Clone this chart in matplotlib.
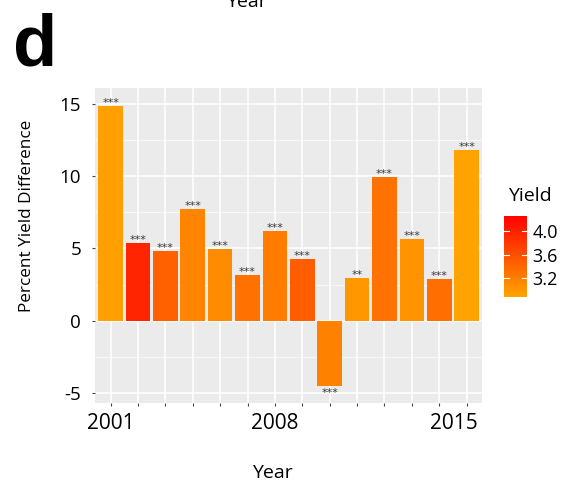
import matplotlib
matplotlib.use('Agg')
import matplotlib.pyplot as plt
import numpy as np
from matplotlib.colors import LinearSegmentedColormap

plt.rcParams['font.family'] = ['Open Sans', 'DejaVu Sans']

# percent yield difference per year, mean yield (fill) and significance stars
bar_pos = list(range(1, 15))
pct_diff = [14.8, 5.4, 4.85, 7.7, 4.95, 3.2, 6.2, 4.3, -4.5, 2.95, 9.9, 5.65, 2.9, 11.8]
yield_vals = [2.92, 3.95, 3.46, 3.16, 3.10, 3.32, 3.23, 3.48, 3.18, 3.00, 3.32, 3.03, 3.34, 2.90]
stars = ['***', '***', '***', '***', '***', '***', '***', '***', '***', '**', '***', '***', '***', '***']

year_labels = ['2001', '2008', '2015']
year_label_pos = [1, 7, 13.55]
y_ticks = [-5, 0, 5, 10, 15]
y_minor = [-2.5, 2.5, 7.5, 12.5]
cbar_ticks = [3.2, 3.6, 4.0]
y_min, y_max = 2.88, 4.26

cmap = LinearSegmentedColormap.from_list('yield', ['#FFA500', '#FF0000'])
norm = plt.Normalize(y_min, y_max)

fig = plt.figure(figsize=(5.79, 4.82), dpi=100)
ax = fig.add_axes([95/579, 1 - 403/482, 387/579, 315/482])
ax.set_facecolor('#EBEBEB')
for s in ax.spines.values():
    s.set_visible(False)

ax.bar(bar_pos, pct_diff, width=0.9, color=cmap(norm(np.array(yield_vals))), zorder=3)

# stars above / below each bar
for x, v, s in zip(bar_pos, pct_diff, stars):
    off = 0 if v >= 0 else -7
    ax.annotate(s, (x, v), xytext=(0, off), textcoords='offset points',
                ha='center', va='baseline', fontsize=8, color='#3a3a3a',
                family='DejaVu Sans', zorder=4)

ax.set_xlim(0.43, 14.56)
ax.set_ylim(-5.66, 16.07)

ax.xaxis.remove_overlapping_locs = False
ax.set_xticks(bar_pos)
ax.set_xticklabels([])
ax.set_xticks(year_label_pos, minor=True)
ax.set_xticklabels(year_labels, minor=True, fontsize=15)
ax.tick_params(axis='x', which='minor', length=0, pad=7)
ax.tick_params(axis='x', which='major', length=2, color='#444444')

ax.set_yticks(y_ticks)
ax.set_yticklabels([str(t) for t in y_ticks], fontsize=13.5)
ax.set_yticks(y_minor, minor=True)
ax.tick_params(axis='y', which='major', length=2, color='#444444', pad=8)
ax.tick_params(axis='y', which='minor', length=0)

ax.grid(True, which='major', axis='both', color='white', linewidth=1.1, zorder=0)
ax.grid(True, which='minor', axis='y', color='white', linewidth=0.5, zorder=0)
ax.set_axisbelow(True)

fig.text(27/579, 1 - 216/482, 'Percent Yield Difference', rotation=90,
         ha='center', va='center', fontsize=12.3)
fig.text(272/579, 1 - 478/482, 'Year', ha='center', va='baseline', fontsize=14)
fig.text(246/579, 1 - 7/482, 'Year', ha='center', va='baseline', fontsize=14)
fig.text(13/579, 1 - 65/482, 'd', ha='left', va='baseline', fontsize=52,
         fontweight='bold', family='Liberation Sans')

# colour bar legend
cax = fig.add_axes([504/579, 1 - 297/482, 23/579, 81/482])
grad = np.linspace(y_min, y_max, 256).reshape(-1, 1)
cax.imshow(grad, aspect='auto', cmap=cmap, norm=norm, origin='lower',
           extent=[0, 1, y_min, y_max])
cax.set_xlim(0, 1)
cax.set_ylim(y_min, y_max)
for t in cbar_ticks:
    cax.plot([0, 0.2], [t, t], color='white', lw=0.8)
    cax.plot([0.8, 1], [t, t], color='white', lw=0.8)
cax.set_xticks([])
cax.yaxis.tick_right()
cax.set_yticks(cbar_ticks)
cax.set_yticklabels(['%.1f' % t for t in cbar_ticks], fontsize=13)
cax.tick_params(axis='y', length=0, pad=4)
for s in cax.spines.values():
    s.set_visible(False)
fig.text(508/579, 1 - 196/482, 'Yield', ha='left', va='center', fontsize=14)

fig.savefig('out.png', dpi=100)
